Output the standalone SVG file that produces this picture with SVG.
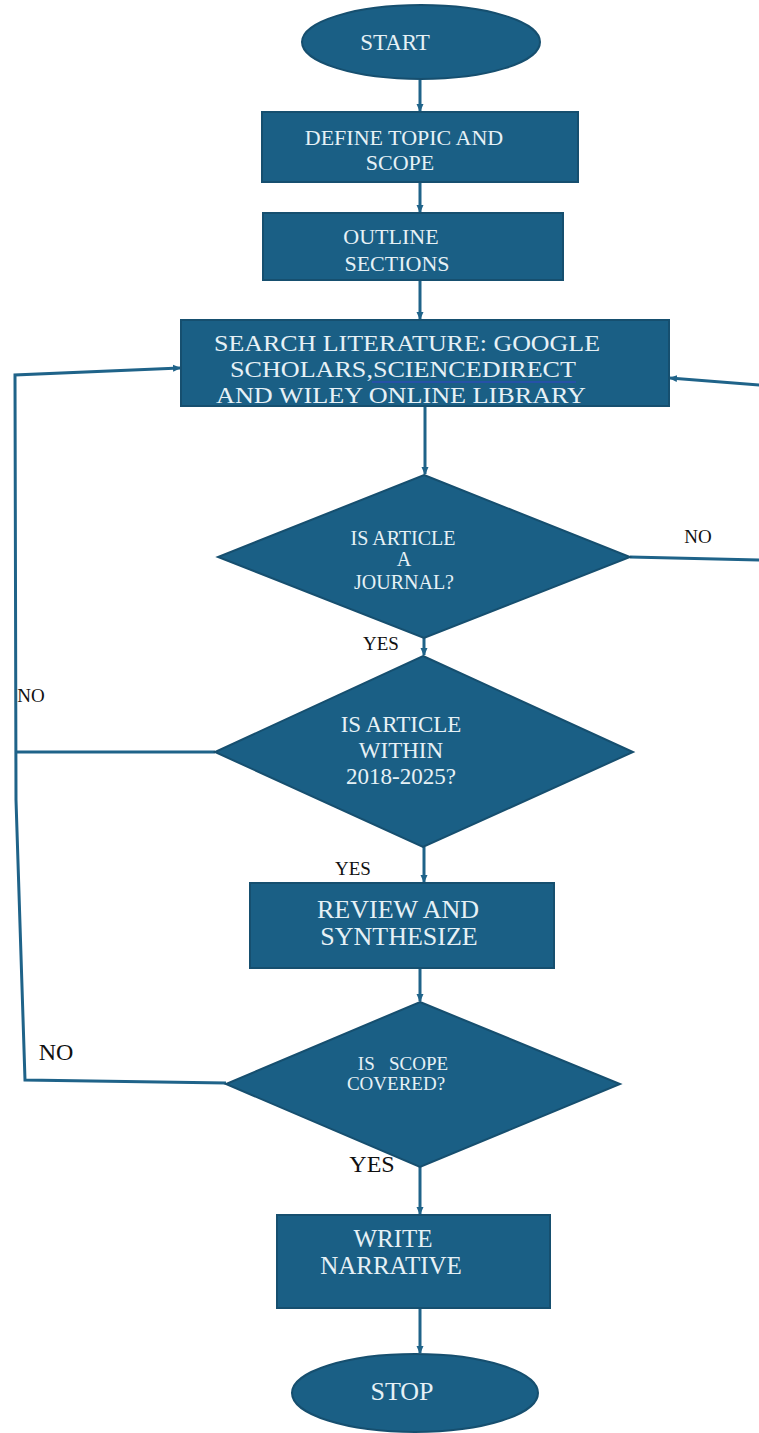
<svg xmlns="http://www.w3.org/2000/svg" width="759" height="1433" viewBox="0 0 759 1433">
<defs>
<marker id="ah" markerWidth="8" markerHeight="8" refX="7" refY="4" orient="auto" markerUnits="userSpaceOnUse">
<path d="M0,0.5 L8,4 L0,7.5 Z" fill="#1f6389"/>
</marker>
<style>
.n{fill:#1a5f85;stroke:#164f6f;stroke-width:2}
.t{font-family:"Liberation Serif","Times New Roman",serif;fill:#e6f1f6;text-anchor:middle}
.l{font-family:"Liberation Serif","Times New Roman",serif;fill:#111;text-anchor:middle}
.c{fill:none;stroke:#1f6389;stroke-width:3}
</style>
</defs>
<rect width="759" height="1433" fill="#fff"/>
<g id="connectors">
<line class="c" x1="420" y1="80" x2="420" y2="111" marker-end="url(#ah)"/>
<line class="c" x1="420" y1="182" x2="420" y2="212" marker-end="url(#ah)"/>
<line class="c" x1="420" y1="280" x2="420" y2="319" marker-end="url(#ah)"/>
<line class="c" x1="425" y1="406" x2="425" y2="474" marker-end="url(#ah)"/>
<line class="c" x1="424" y1="638" x2="424" y2="655" marker-end="url(#ah)"/>
<line class="c" x1="424" y1="847" x2="424" y2="882" marker-end="url(#ah)"/>
<line class="c" x1="420" y1="968" x2="420" y2="1001" marker-end="url(#ah)"/>
<line class="c" x1="420" y1="1167" x2="420" y2="1214" marker-end="url(#ah)"/>
<line class="c" x1="420" y1="1308" x2="420" y2="1353" marker-end="url(#ah)"/>
<polyline class="c" points="630,557 760,560"/>
<polyline class="c" points="760,385 670,378" marker-end="url(#ah)"/>
<polyline class="c" points="215,752 15,752"/>
<polyline class="c" points="226,1083 25,1080 16,800 15,375 180,368" marker-end="url(#ah)"/>
</g>
<g id="start"><ellipse class="n" cx="421" cy="42" rx="119" ry="37"/><text class="t" x="395" y="50" font-size="23">START</text></g>
<g id="define"><rect class="n" x="262" y="112" width="316" height="70"/><text class="t" x="404" y="145" font-size="22">DEFINE TOPIC AND</text><text class="t" x="400" y="170" font-size="22">SCOPE</text></g>
<g id="outline"><rect class="n" x="263" y="213" width="300" height="67"/><text class="t" x="391" y="244" font-size="22">OUTLINE</text><text class="t" x="397" y="271" font-size="22">SECTIONS</text></g>
<g id="search"><rect class="n" x="181" y="320" width="488" height="86"/><text class="t" x="407" y="351" font-size="23" textLength="386" lengthAdjust="spacingAndGlyphs">SEARCH LITERATURE: GOOGLE</text><text class="t" x="403" y="377" font-size="23" textLength="346" lengthAdjust="spacingAndGlyphs">SCHOLARS,SCIENCEDIRECT</text><line x1="372" y1="382" x2="576" y2="382" stroke="#3344cc" stroke-width="1.2"/><text class="t" x="401" y="403" font-size="23" textLength="370" lengthAdjust="spacingAndGlyphs">AND WILEY ONLINE LIBRARY</text></g>
<g id="journal"><polygon class="n" points="424,475 630,557 424,638 218,557"/><text class="t" x="403" y="545" font-size="20">IS ARTICLE</text><text class="t" x="404" y="566" font-size="20">A</text><text class="t" x="404" y="589" font-size="20">JOURNAL?</text></g>
<g id="within"><polygon class="n" points="423,656 633,752 423,847 215,752"/><text class="t" x="401" y="732" font-size="23">IS ARTICLE</text><text class="t" x="401" y="758" font-size="23">WITHIN</text><text class="t" x="401" y="784" font-size="23">2018-2025?</text></g>
<g id="review"><rect class="n" x="250" y="883" width="304" height="85"/><text class="t" x="398" y="918" font-size="26">REVIEW AND</text><text class="t" x="399" y="945" font-size="26">SYNTHESIZE</text></g>
<g id="scope"><polygon class="n" points="420,1002 620,1084 420,1167 226,1084"/><text class="t" x="403" y="1070" font-size="19" xml:space="preserve">IS   SCOPE</text><text class="t" x="396" y="1090" font-size="19">COVERED?</text></g>
<g id="write"><rect class="n" x="277" y="1215" width="273" height="93"/><text class="t" x="393" y="1247" font-size="25">WRITE</text><text class="t" x="391" y="1274" font-size="25">NARRATIVE</text></g>
<g id="stop"><ellipse class="n" cx="415" cy="1393" rx="123" ry="39"/><text class="t" x="402" y="1400" font-size="26">STOP</text></g>
<g id="labels">
<text class="l" x="698" y="543" font-size="19">NO</text>
<text class="l" x="381" y="650" font-size="19">YES</text>
<text class="l" x="31" y="702" font-size="19">NO</text>
<text class="l" x="353" y="875" font-size="19">YES</text>
<text class="l" x="56" y="1060" font-size="24">NO</text>
<text class="l" x="372" y="1172" font-size="24">YES</text>
</g>
</svg>
